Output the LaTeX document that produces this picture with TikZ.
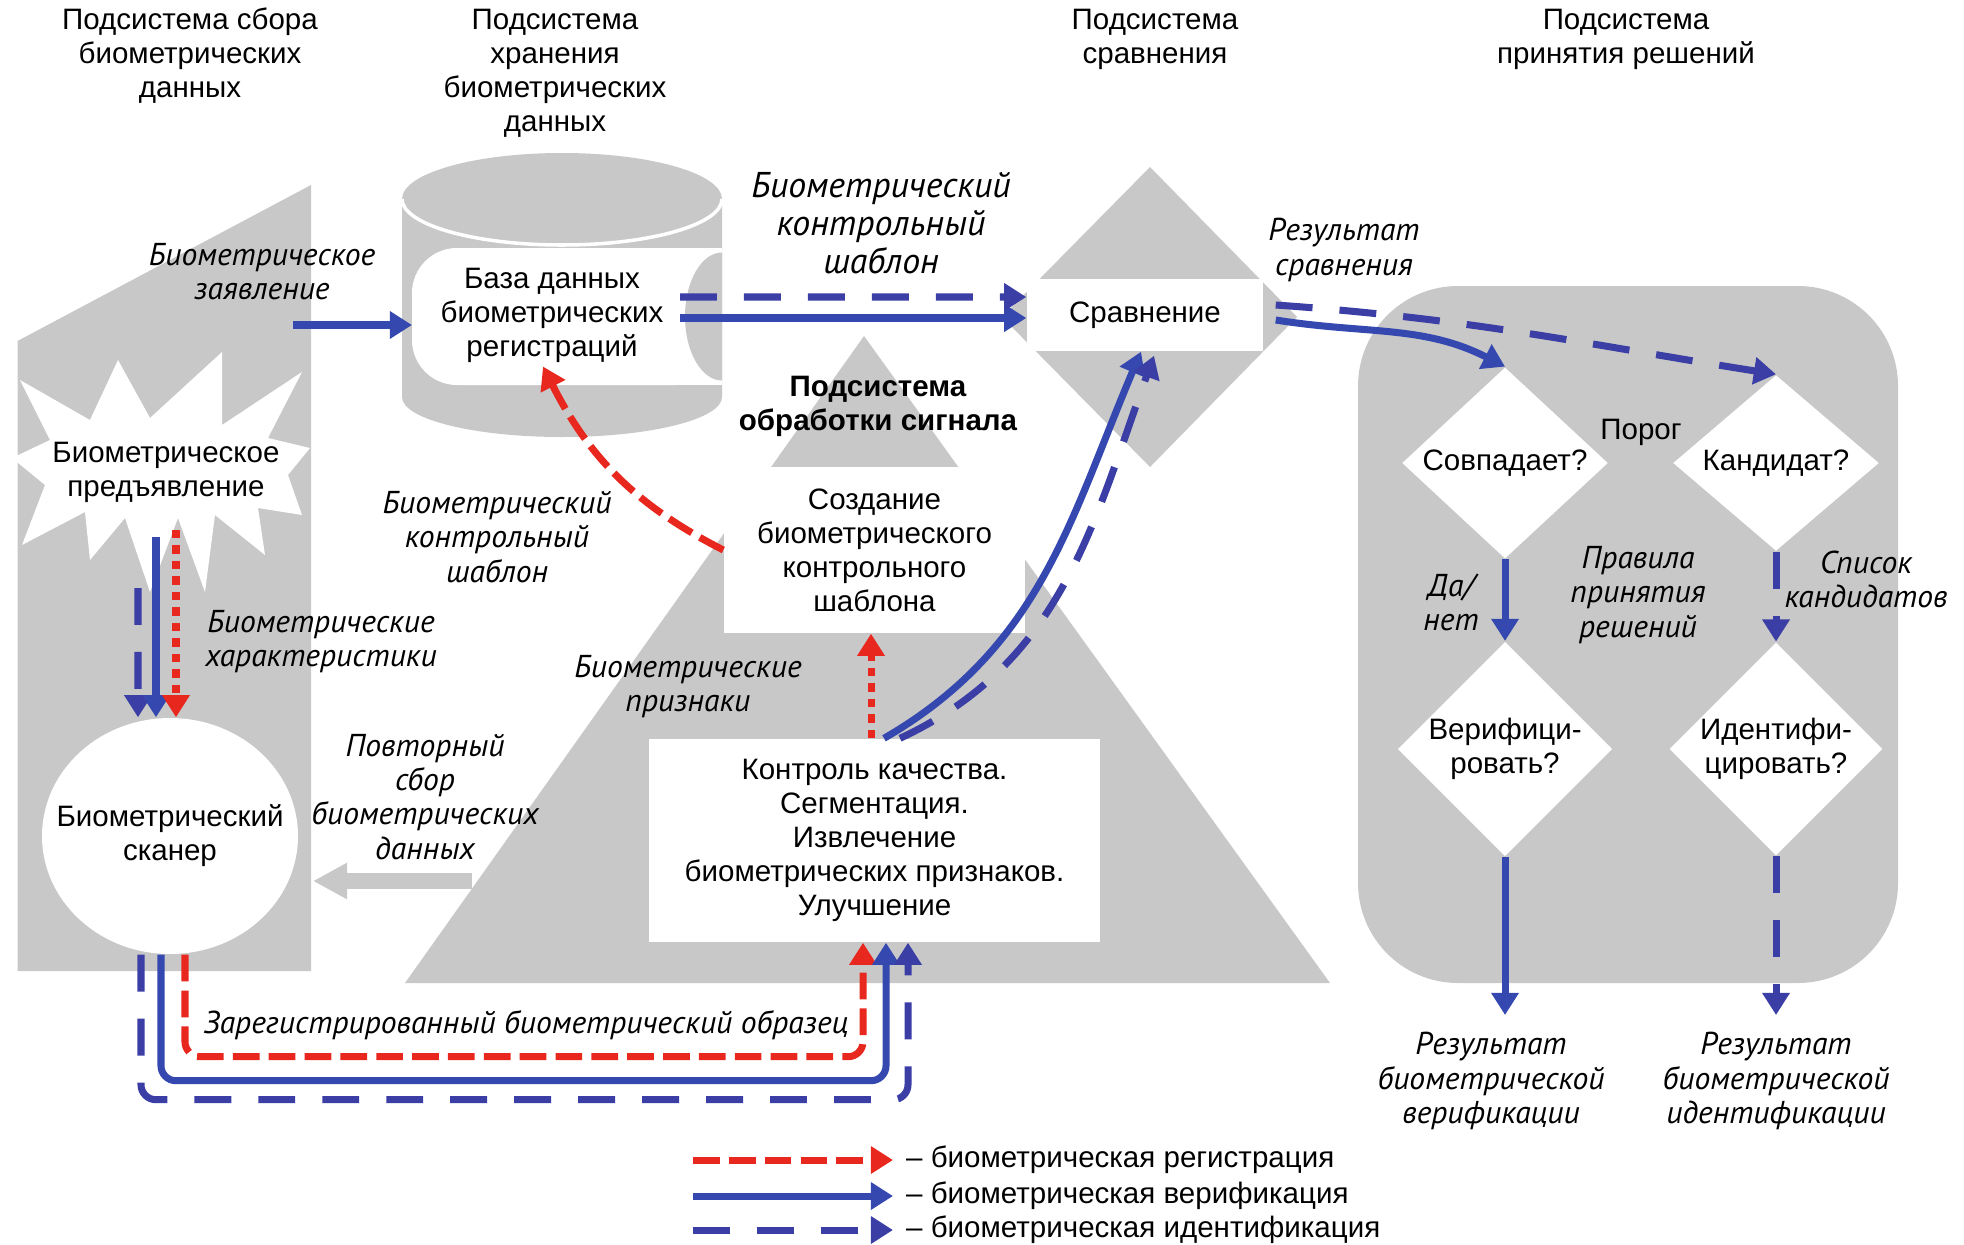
\documentclass[tikz,border=0pt]{standalone}
\usepackage{fontspec}
\setmainfont{Liberation Sans}
\newfontfamily\slfont{PT Sans}
\usetikzlibrary{arrows.meta,shapes.geometric,calc}
\definecolor{panelgray}{RGB}{200,200,200}
\definecolor{regred}{RGB}{232,40,30}
\definecolor{verblue}{RGB}{52,72,175}
\definecolor{idblue}{RGB}{58,62,165}
\tikzset{
  txt/.style={font=\fontsize{8.4}{9.7}\selectfont, align=center, inner sep=1pt},
  lbl/.style={font=\slfont\itshape\fontsize{9}{9.7}\selectfont, align=center, inner sep=1pt},
  lblbig/.style={font=\slfont\itshape\fontsize{10.2}{10.9}\selectfont, align=center, inner sep=1pt},
  whitebox/.style={txt, fill=white, inner sep=0pt},
  dec/.style={txt, shape=diamond, fill=white, minimum width=2.06cm, inner sep=0pt},
  headtri/.style={-{Triangle[length=6.3pt,width=7.5pt]}},
  regarr/.style={draw=regred, line width=2pt, dash pattern=on 7.6pt off 2.6pt, headtri},
  regdot/.style={draw=regred, line width=2pt, dash pattern=on 2.4pt off 2pt, headtri},
  verarr/.style={draw=verblue, line width=2pt, headtri},
  idarr/.style={draw=idblue, line width=2pt, dash pattern=on 10.5pt off 7.7pt, headtri},
}

\begin{document}
\begin{tikzpicture}
		%%%%% START %%%%%
		\useasboundingbox (0,0) rectangle (19.64,-12.44);
		
		\fill[panelgray] (0.175,-3.41) -- (3.11,-1.85) -- (3.11,-9.71) -- (0.175,-9.71) -- cycle;
		\fill[white] (0.20,-3.80) -- (0.90,-4.20) -- (1.18,-3.60) -- (1.50,-4.18) -- (2.22,-3.52) -- (2.22,-4.25) -- (3.02,-3.72) -- (2.68,-4.38) -- (3.10,-4.48) -- (2.88,-4.75) -- (3.02,-5.15) -- (2.58,-5.08) -- (2.65,-5.55) -- (2.15,-5.15) -- (2.05,-5.92) -- (1.78,-5.18) -- (1.50,-5.92) -- (1.25,-5.18) -- (0.90,-5.60) -- (0.85,-5.12) -- (0.22,-5.45) -- (0.45,-4.85) -- (0.12,-4.58) -- (0.50,-4.40) -- cycle;
		
		\fill[panelgray] (4.02,-1.99) -- (4.02,-3.97) arc[start angle=180, end angle=360, x radius=1.60, y radius=0.40] -- (7.22,-1.99) arc[start angle=0, end angle=180, x radius=1.60, y radius=0.46] -- cycle;
		\draw[white, line width=1pt] (4.02,-1.99) arc[start angle=180, end angle=360, x radius=1.60, y radius=0.46];
		\fill[white, rounded corners=0.45cm] (4.12,-2.48) rectangle (7.22,-3.85);
		\fill[white] (6.0,-2.48) rectangle (7.22,-3.85);
		\begin{scope}
			\clip (6.0,-2.3) rectangle (7.22,-4.0);
			\fill[panelgray] (7.22,-3.165) ellipse[x radius=0.37, y radius=0.64];
		\end{scope}
		
		\fill[panelgray] (11.50,-1.67) -- (12.97,-3.17) -- (11.50,-4.67) -- (10.02,-3.17) -- cycle;
		\fill[panelgray] (8.64,-3.36) -- (13.30,-9.83) -- (4.05,-9.83) -- cycle;
		\fill[panelgray, rounded corners=1cm] (13.58,-2.86) rectangle (18.98,-9.83);
		
		\node[txt] (tcol) at (1.90,-0.56) {Подсистема сбора\\биометрических\\данных};
		\node[txt] (tsto) at (5.55,-0.73) {Подсистема\\хранения\\биометрических\\данных};
		\node[txt] (tcmp) at (11.55,-0.39) {Подсистема\\сравнения};
		\node[txt] (tdec) at (16.26,-0.39) {Подсистема\\принятия решений};
		
		\node[txt] (db) at (5.52,-3.15) {База данных\\биометрических\\регистраций};
		\node[txt] (pres) at (1.66,-4.72) {Биометрическое\\предъявление};
		\node[txt, ellipse, fill=white, minimum width=2.56cm, minimum height=2.36cm, inner xsep=-0.3cm, inner ysep=0pt] (scan) at (1.70,-8.36) {Биометрический\\сканер};
		\node[whitebox, minimum width=2.36cm, minimum height=0.72cm] (cmp) at (11.45,-3.15) {Сравнение};
		\node[txt, font=\bfseries\fontsize{8.4}{9.7}\selectfont] (tsig) at (8.78,-4.06) {Подсистема\\обработки сигнала};
		\node[whitebox, minimum width=3.01cm, minimum height=1.66cm] (cre) at (8.745,-5.50) {Создание\\биометрического\\контрольного\\шаблона};
		\node[whitebox, minimum width=4.51cm, minimum height=2.03cm] (ctl) at (8.745,-8.405) {Контроль качества.\\Сегментация.\\Извлечение\\биометрических признаков.\\Улучшение};
		
		\node[dec, minimum height=1.76cm] (match) at (15.05,-4.63) {Совпадает?};
		\node[dec, minimum height=1.76cm] (cand) at (17.76,-4.63) {Кандидат?};
		\node[dec, minimum height=2.06cm] (verq) at (15.05,-7.49) {Верифици-\\ровать?};
		\node[dec, minimum height=2.06cm] (idq) at (17.76,-7.49) {Идентифи-\\цировать?};
		\node[txt] (thr) at (16.41,-4.32) {Порог};
		
		\node[lbl] (lapp) at (2.62,-2.72) {Биометрическое\\заявление};
		\node[lblbig] (ltpl) at (8.81,-2.23) {Биометрический\\контрольный\\шаблон};
		\node[lbl] (lres) at (13.44,-2.50) {Результат\\сравнения};
		\node[lbl] (lenr) at (4.97,-5.37) {Биометрический\\контрольный\\шаблон};
		\node[lbl] (lchr) at (3.21,-6.42) {Биометрические\\характеристики};
		\node[lbl] (lfea) at (6.88,-6.87) {Биометрические\\признаки};
		\node[lbl] (lrep) at (4.25,-7.97) {Повторный\\сбор\\биометрических\\данных};
		\node[lbl] (lsmp) at (5.26,-10.25) {Зарегистрированный биометрический образец};
		\node[lbl] (lyes) at (14.51,-6.02) {Да/\\нет};
		\node[lbl] (lrul) at (16.38,-5.95) {Правила\\принятия\\решений};
		\node[lbl] (llst) at (18.66,-5.79) {Список\\кандидатов};
		\node[lbl] (verres) at (14.91,-10.81) {Результат\\биометрической\\верификации};
		\node[lbl] (idres) at (17.76,-10.81) {Результат\\биометрической\\идентификации};
		
		\coordinate (appin) at (2.93,-3.25);
		\coordinate (dbin) at (4.12,-3.25);
		\coordinate (dbver) at (6.80,-3.18);
		\coordinate (dbid) at (6.80,-2.97);
		\coordinate (presid) at (1.38,-5.88);
		\coordinate (presver) at (1.56,-5.37);
		\coordinate (presreg) at (1.76,-5.30);
		\coordinate (repin) at (4.72,-8.81);
		\coordinate (repout) at (3.13,-8.81);
		\coordinate (verend) at (15.05,-10.15);
		\coordinate (idend) at (17.76,-10.15);
		
		\draw[verarr] (appin) -- (dbin);
		\draw[verarr] (dbver) -- ([yshift=-0.03cm]cmp.west);
		\draw[idarr] (dbid) -- ([yshift=0.18cm]cmp.west);
		\draw[regarr] (cre.west) to[out=153, in=-63] ([xshift=-0.09cm]db.south);
		\draw[regdot] ([xshift=-0.035cm]ctl.north) -- ([xshift=-0.035cm]cre.south);
		\draw[verarr] ([xshift=0.095cm]ctl.north) to[out=30, in=247] ([xshift=-0.04cm]cmp.south);
		\draw[idarr] ([xshift=0.255cm]ctl.north) to[out=25, in=250] ([xshift=0.09cm,yshift=-0.04cm]cmp.south);
		\draw[verarr] ([xshift=0.12cm,yshift=-0.05cm]cmp.east) to[out=-9, in=153] (match.north);
		\draw[idarr] ([xshift=0.12cm,yshift=0.10cm]cmp.east) to[out=-4, in=171] (cand.north);
		\draw[verarr] (match.south) -- (verq.north);
		\draw[idarr] (cand.south) -- (idq.north);
		\draw[verarr] (verq.south) -- (verend);
		\draw[idarr] (idq.south) -- (idend);
		
		\draw[idarr] (presid) -- ([xshift=-0.32cm]scan.north);
		\draw[verarr] (presver) -- ([xshift=-0.14cm]scan.north);
		\draw[regdot] (presreg) -- ([xshift=0.06cm]scan.north);
		\draw[panelgray, line width=4.3pt, -{Triangle[length=0.34cm,width=0.34cm]}] (repin) -- (repout);
		
		\draw[regarr, rounded corners=0.15cm] ([xshift=0.15cm]scan.south) |- ([xshift=-0.115cm,yshift=-1.14cm]ctl.south) -- ([xshift=-0.115cm]ctl.south);
		\draw[verarr, rounded corners=0.15cm] ([xshift=-0.09cm]scan.south) |- ([xshift=0.115cm,yshift=-1.38cm]ctl.south) -- ([xshift=0.115cm]ctl.south);
		\draw[idarr, rounded corners=0.15cm] ([xshift=-0.29cm]scan.south) |- ([xshift=0.335cm,yshift=-1.57cm]ctl.south) -- ([xshift=0.335cm]ctl.south);
		
		\node[txt, anchor=west] (legreg) at (9.02,-11.60) {– биометрическая регистрация};
		\node[txt, anchor=west] (legver) at (9.02,-11.96) {– биометрическая верификация};
		\node[txt, anchor=west] (legid) at (9.02,-12.30) {– биометрическая идентификация};
		\draw[regarr] ([xshift=-2.09cm]legreg.west) -- ([xshift=-0.09cm]legreg.west);
		\draw[verarr] ([xshift=-2.09cm]legver.west) -- ([xshift=-0.09cm]legver.west);
		\draw[idarr] ([xshift=-2.09cm]legid.west) -- ([xshift=-0.09cm]legid.west);
		%%%%% END %%%%%
\end{tikzpicture}
\end{document}
